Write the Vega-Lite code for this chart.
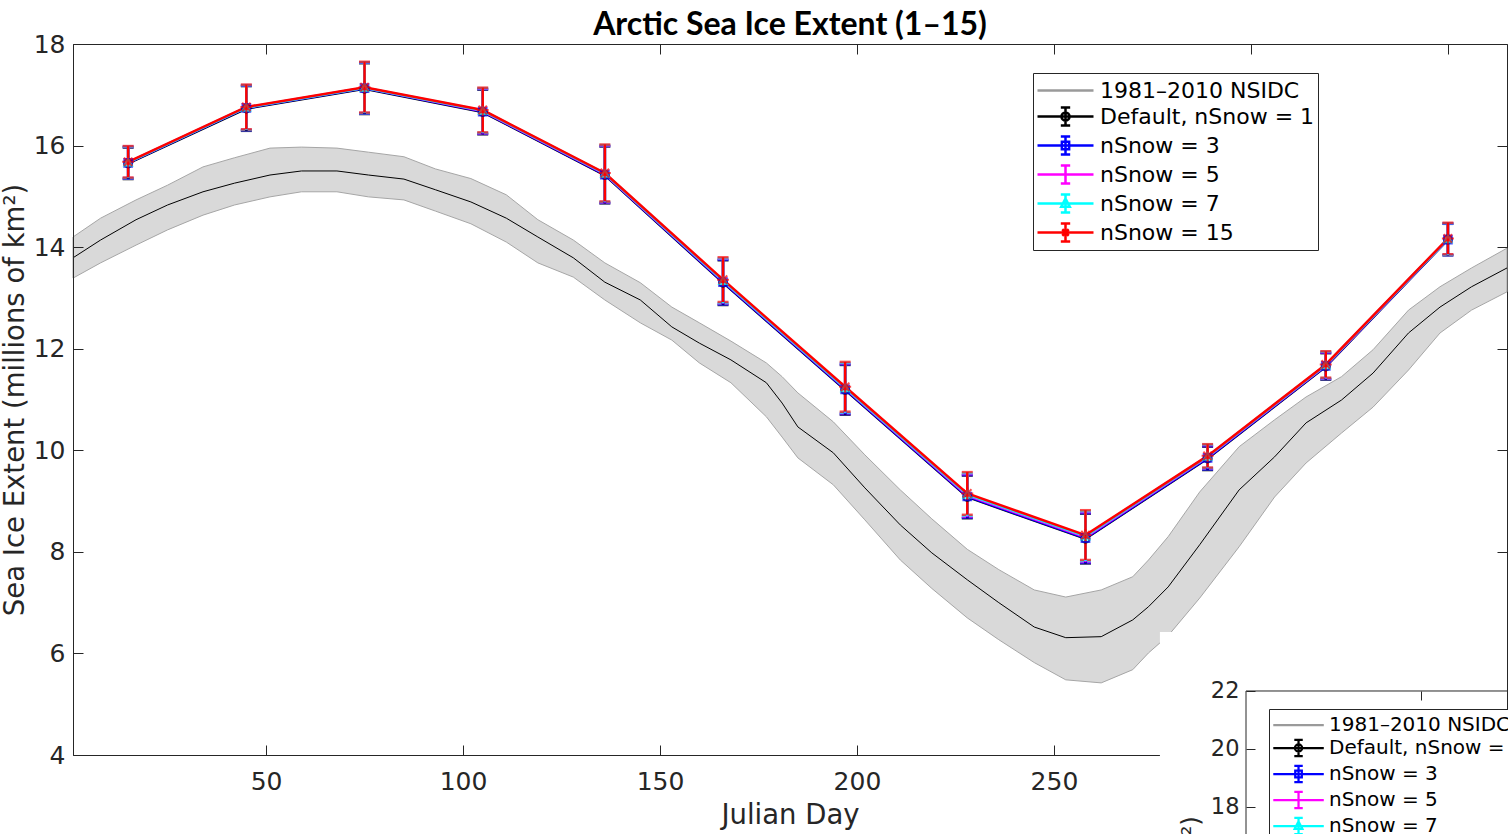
{
  "$schema": "https://vega.github.io/schema/vega-lite/v6.json",
  "background": "white",
  "padding": {"left": 0, "top": 8, "right": 0, "bottom": 0},
  "config": {
    "view": {"stroke": null},
    "axis": {"labelFont": "DejaVu Sans", "labelFontSize": 25, "labelColor": "#262626", "titleFont": "DejaVu Sans", "titleFontSize": 27.5, "titleFontWeight": "normal", "titleColor": "#262626", "tickColor": "#262626", "domainColor": "#262626", "grid": false, "tickSize": -10},
    "legend": {"labelFont": "DejaVu Sans", "labelColor": "black", "disable": true},
    "title": {"font": "Lato", "fontSize": 32, "fontWeight": "bold", "color": "black", "frame": "group"}
  },
  "datasets": {
    "clim": [
      {"day": 1, "mean": 13.79, "hi": 14.20, "lo": 13.39},
      {"day": 8, "mean": 14.14, "hi": 14.57, "lo": 13.69},
      {"day": 17, "mean": 14.54, "hi": 14.93, "lo": 14.04},
      {"day": 25, "mean": 14.83, "hi": 15.22, "lo": 14.34},
      {"day": 34, "mean": 15.09, "hi": 15.58, "lo": 14.63},
      {"day": 42, "mean": 15.26, "hi": 15.76, "lo": 14.83},
      {"day": 51, "mean": 15.42, "hi": 15.95, "lo": 14.99},
      {"day": 59, "mean": 15.50, "hi": 15.97, "lo": 15.09},
      {"day": 68, "mean": 15.50, "hi": 15.95, "lo": 15.09},
      {"day": 76, "mean": 15.42, "hi": 15.87, "lo": 14.99},
      {"day": 85, "mean": 15.34, "hi": 15.78, "lo": 14.93},
      {"day": 93, "mean": 15.13, "hi": 15.54, "lo": 14.71},
      {"day": 102, "mean": 14.89, "hi": 15.35, "lo": 14.46},
      {"day": 111, "mean": 14.57, "hi": 15.03, "lo": 14.10},
      {"day": 119, "mean": 14.20, "hi": 14.54, "lo": 13.69},
      {"day": 128, "mean": 13.79, "hi": 14.14, "lo": 13.41},
      {"day": 136, "mean": 13.31, "hi": 13.69, "lo": 12.96},
      {"day": 145, "mean": 12.96, "hi": 13.30, "lo": 12.51},
      {"day": 153, "mean": 12.43, "hi": 12.82, "lo": 12.17},
      {"day": 160, "mean": 12.11, "hi": 12.51, "lo": 11.72},
      {"day": 168, "mean": 11.78, "hi": 12.15, "lo": 11.33},
      {"day": 177, "mean": 11.33, "hi": 11.72, "lo": 10.66},
      {"day": 181, "mean": 10.93, "hi": 11.45, "lo": 10.26},
      {"day": 185, "mean": 10.46, "hi": 11.13, "lo": 9.85},
      {"day": 194, "mean": 9.95, "hi": 10.56, "lo": 9.32},
      {"day": 202, "mean": 9.26, "hi": 9.91, "lo": 8.63},
      {"day": 211, "mean": 8.53, "hi": 9.22, "lo": 7.84},
      {"day": 219, "mean": 7.98, "hi": 8.65, "lo": 7.28},
      {"day": 228, "mean": 7.45, "hi": 8.05, "lo": 6.70},
      {"day": 236, "mean": 7.00, "hi": 7.65, "lo": 6.27},
      {"day": 245, "mean": 6.52, "hi": 7.25, "lo": 5.82},
      {"day": 253, "mean": 6.31, "hi": 7.11, "lo": 5.48},
      {"day": 262, "mean": 6.33, "hi": 7.25, "lo": 5.42},
      {"day": 270, "mean": 6.66, "hi": 7.51, "lo": 5.68},
      {"day": 274, "mean": 6.92, "hi": 7.84, "lo": 6.01},
      {"day": 279, "mean": 7.31, "hi": 8.30, "lo": 6.35},
      {"day": 287, "mean": 8.14, "hi": 9.18, "lo": 7.09},
      {"day": 297, "mean": 9.22, "hi": 10.07, "lo": 8.10},
      {"day": 306, "mean": 9.87, "hi": 10.60, "lo": 9.08},
      {"day": 314, "mean": 10.54, "hi": 11.05, "lo": 9.75},
      {"day": 323, "mean": 10.99, "hi": 11.45, "lo": 10.34},
      {"day": 331, "mean": 11.52, "hi": 11.98, "lo": 10.85},
      {"day": 340, "mean": 12.31, "hi": 12.76, "lo": 11.58},
      {"day": 348, "mean": 12.82, "hi": 13.22, "lo": 12.31},
      {"day": 356, "mean": 13.22, "hi": 13.59, "lo": 12.76},
      {"day": 365, "mean": 13.59, "hi": 13.98, "lo": 13.12}
    ],
    "runs": [
      {"series": "Default, nSnow = 1", "day": 15, "val": 15.65, "err": 0.31},
      {"series": "Default, nSnow = 1", "day": 45, "val": 16.73, "err": 0.44},
      {"series": "Default, nSnow = 1", "day": 75, "val": 17.12, "err": 0.50},
      {"series": "Default, nSnow = 1", "day": 105, "val": 16.66, "err": 0.44},
      {"series": "Default, nSnow = 1", "day": 136, "val": 15.42, "err": 0.56},
      {"series": "Default, nSnow = 1", "day": 166, "val": 13.30, "err": 0.44},
      {"series": "Default, nSnow = 1", "day": 197, "val": 11.19, "err": 0.49},
      {"series": "Default, nSnow = 1", "day": 228, "val": 9.08, "err": 0.42},
      {"series": "Default, nSnow = 1", "day": 258, "val": 8.26, "err": 0.49},
      {"series": "Default, nSnow = 1", "day": 289, "val": 9.84, "err": 0.23},
      {"series": "Default, nSnow = 1", "day": 319, "val": 11.65, "err": 0.26},
      {"series": "Default, nSnow = 1", "day": 350, "val": 14.15, "err": 0.31},
      {"series": "nSnow = 3", "day": 15, "val": 15.66, "err": 0.31},
      {"series": "nSnow = 3", "day": 45, "val": 16.74, "err": 0.44},
      {"series": "nSnow = 3", "day": 75, "val": 17.13, "err": 0.50},
      {"series": "nSnow = 3", "day": 105, "val": 16.67, "err": 0.44},
      {"series": "nSnow = 3", "day": 136, "val": 15.43, "err": 0.56},
      {"series": "nSnow = 3", "day": 166, "val": 13.31, "err": 0.44},
      {"series": "nSnow = 3", "day": 197, "val": 11.20, "err": 0.49},
      {"series": "nSnow = 3", "day": 228, "val": 9.09, "err": 0.42},
      {"series": "nSnow = 3", "day": 258, "val": 8.27, "err": 0.49},
      {"series": "nSnow = 3", "day": 289, "val": 9.85, "err": 0.23},
      {"series": "nSnow = 3", "day": 319, "val": 11.66, "err": 0.26},
      {"series": "nSnow = 3", "day": 350, "val": 14.15, "err": 0.31},
      {"series": "nSnow = 5", "day": 15, "val": 15.67, "err": 0.31},
      {"series": "nSnow = 5", "day": 45, "val": 16.75, "err": 0.44},
      {"series": "nSnow = 5", "day": 75, "val": 17.14, "err": 0.50},
      {"series": "nSnow = 5", "day": 105, "val": 16.68, "err": 0.44},
      {"series": "nSnow = 5", "day": 136, "val": 15.44, "err": 0.56},
      {"series": "nSnow = 5", "day": 166, "val": 13.33, "err": 0.44},
      {"series": "nSnow = 5", "day": 197, "val": 11.22, "err": 0.49},
      {"series": "nSnow = 5", "day": 228, "val": 9.11, "err": 0.42},
      {"series": "nSnow = 5", "day": 258, "val": 8.29, "err": 0.49},
      {"series": "nSnow = 5", "day": 289, "val": 9.87, "err": 0.23},
      {"series": "nSnow = 5", "day": 319, "val": 11.67, "err": 0.26},
      {"series": "nSnow = 5", "day": 350, "val": 14.16, "err": 0.31},
      {"series": "nSnow = 7", "day": 15, "val": 15.67, "err": 0.31},
      {"series": "nSnow = 7", "day": 45, "val": 16.75, "err": 0.44},
      {"series": "nSnow = 7", "day": 75, "val": 17.14, "err": 0.50},
      {"series": "nSnow = 7", "day": 105, "val": 16.69, "err": 0.44},
      {"series": "nSnow = 7", "day": 136, "val": 15.45, "err": 0.56},
      {"series": "nSnow = 7", "day": 166, "val": 13.34, "err": 0.44},
      {"series": "nSnow = 7", "day": 197, "val": 11.23, "err": 0.49},
      {"series": "nSnow = 7", "day": 228, "val": 9.13, "err": 0.42},
      {"series": "nSnow = 7", "day": 258, "val": 8.31, "err": 0.49},
      {"series": "nSnow = 7", "day": 289, "val": 9.88, "err": 0.23},
      {"series": "nSnow = 7", "day": 319, "val": 11.68, "err": 0.26},
      {"series": "nSnow = 7", "day": 350, "val": 14.16, "err": 0.31},
      {"series": "nSnow = 15", "day": 15, "val": 15.68, "err": 0.31},
      {"series": "nSnow = 15", "day": 45, "val": 16.76, "err": 0.44},
      {"series": "nSnow = 15", "day": 75, "val": 17.15, "err": 0.50},
      {"series": "nSnow = 15", "day": 105, "val": 16.70, "err": 0.44},
      {"series": "nSnow = 15", "day": 136, "val": 15.46, "err": 0.56},
      {"series": "nSnow = 15", "day": 166, "val": 13.36, "err": 0.44},
      {"series": "nSnow = 15", "day": 197, "val": 11.25, "err": 0.49},
      {"series": "nSnow = 15", "day": 228, "val": 9.15, "err": 0.42},
      {"series": "nSnow = 15", "day": 258, "val": 8.33, "err": 0.49},
      {"series": "nSnow = 15", "day": 289, "val": 9.89, "err": 0.23},
      {"series": "nSnow = 15", "day": 319, "val": 11.69, "err": 0.26},
      {"series": "nSnow = 15", "day": 350, "val": 14.17, "err": 0.31}
    ],
    "legendrows": [
      {"series": "1981–2010 NSIDC"},
      {"series": "Default, nSnow = 1"},
      {"series": "nSnow = 3"},
      {"series": "nSnow = 5"},
      {"series": "nSnow = 7"},
      {"series": "nSnow = 15"}
    ]
  },
  "columns": 2,
  "align": "none",
  "spacing": -332,
  "resolve": {"scale": {"color": "independent", "shape": "independent", "x": "independent", "y": "independent"}, "legend": {"color": "independent", "shape": "independent"}},
  "concat": [
    {
      "width": 1434,
      "height": 711,
      "view": {"stroke": "#262626", "strokeWidth": 1, "fill": "white"},
      "title": {"text": "Arctic Sea Ice Extent (1–15)", "offset": -10},
      "resolve": {"axis": {"x": "independent", "y": "independent"}, "scale": {"color": "independent", "shape": "independent"}, "legend": {"color": "independent", "shape": "independent"}},
      "layer": [
        {
          "layer": [
            {
              "data": {"name": "clim"},
              "mark": {"type": "area", "fill": "#d9d9d9", "stroke": "#a6a6a6", "strokeWidth": 1},
              "encoding": {
                "x": {"field": "day", "type": "quantitative", "scale": {"domain": [1, 365], "nice": false, "zero": false},
                      "axis": {"values": [50, 100, 150, 200, 250, 300, 350], "title": "Julian Day", "labelPadding": 24, "titlePadding": 7, "domain": false, "zindex": 0}},
                "y": {"field": "lo", "type": "quantitative", "scale": {"domain": [4, 18], "nice": false, "zero": false}, "title": "Sea Ice Extent (millions of km²)",
                      "axis": {"values": [4, 6, 8, 10, 12, 14, 16, 18], "title": "Sea Ice Extent (millions of km²)", "labelPadding": 18, "titlePadding": 4, "domain": true, "zindex": 1}},
                "y2": {"field": "hi"}
              }
            },
            {
              "data": {"name": "clim"},
              "mark": {"type": "line", "color": "black", "strokeWidth": 1},
              "encoding": {
                "x": {"field": "day", "type": "quantitative", "title": "Julian Day"},
                "y": {"field": "mean", "type": "quantitative", "title": "Sea Ice Extent (millions of km²)"}
              }
            },
            {
              "data": {"name": "runs"},
              "mark": {"type": "line", "strokeWidth": 2.5},
              "encoding": {
                "x": {"field": "day", "type": "quantitative", "title": "Julian Day"},
                "y": {"field": "val", "type": "quantitative", "title": "Sea Ice Extent (millions of km²)"},
                "color": {"field": "series", "type": "nominal", "legend": null,
                  "scale": {"domain": ["Default, nSnow = 1", "nSnow = 3", "nSnow = 5", "nSnow = 7", "nSnow = 15"], "range": ["#000000", "#0000ff", "#ff00ff", "#00ffff", "#ff0000"]}}
              }
            },
            {
              "data": {"name": "runs"},
              "mark": {"type": "errorbar", "ticks": {"size": 11, "thickness": 2.5}, "thickness": 2.5},
              "encoding": {
                "x": {"field": "day", "type": "quantitative", "title": "Julian Day"},
                "y": {"field": "val", "type": "quantitative", "title": "Sea Ice Extent (millions of km²)"},
                "yError": {"field": "err"},
                "color": {"field": "series", "type": "nominal", "legend": null}
              }
            },
            {
              "data": {"name": "runs"},
              "transform": [{"filter": "datum.series === 'Default, nSnow = 1'"}],
              "mark": {"type": "point", "shape": "circle", "filled": false, "color": "#000000", "strokeWidth": 2, "size": 64},
              "encoding": {"x": {"field": "day", "type": "quantitative", "title": "Julian Day"}, "y": {"field": "val", "type": "quantitative", "title": "Sea Ice Extent (millions of km²)"}}
            },
            {
              "data": {"name": "runs"},
              "transform": [{"filter": "datum.series === 'nSnow = 3'"}],
              "mark": {"type": "point", "shape": "square", "filled": false, "color": "#0000ff", "strokeWidth": 2, "size": 60},
              "encoding": {"x": {"field": "day", "type": "quantitative", "title": "Julian Day"}, "y": {"field": "val", "type": "quantitative", "title": "Sea Ice Extent (millions of km²)"}}
            },
            {
              "data": {"name": "runs"},
              "transform": [{"filter": "datum.series === 'nSnow = 7'"}],
              "mark": {"type": "point", "shape": "triangle-up", "filled": false, "color": "#00ffff", "strokeWidth": 2, "size": 60},
              "encoding": {"x": {"field": "day", "type": "quantitative", "title": "Julian Day"}, "y": {"field": "val", "type": "quantitative", "title": "Sea Ice Extent (millions of km²)"}}
            },
            {
              "data": {"name": "runs"},
              "transform": [{"filter": "datum.series === 'nSnow = 15'"}],
              "mark": {"type": "point", "shape": "M-1,0L1,0M0,-1L0,1M-0.7,-0.7L0.7,0.7M-0.7,0.7L0.7,-0.7", "filled": false, "color": "#ff0000", "strokeWidth": 2, "size": 144},
              "encoding": {"x": {"field": "day", "type": "quantitative", "title": "Julian Day"}, "y": {"field": "val", "type": "quantitative", "title": "Sea Ice Extent (millions of km²)"}}
            }
          ]
        },
        {
          "data": {"values": [{}]},
          "mark": {"type": "rect", "color": "white"},
          "encoding": {
            "x": {"datum": 276.9, "type": "quantitative", "axis": {"orient": "top", "labels": false, "title": null, "domain": false, "values": [50, 100, 150, 200, 250, 300, 350], "zindex": 0}},
            "x2": {"datum": 365},
            "y": {"datum": 6.42, "type": "quantitative", "axis": {"orient": "right", "labels": false, "title": null, "domain": false, "values": [4, 6, 8, 10, 12, 14, 16, 18], "zindex": 0}},
            "y2": {"datum": 0}
          }
        },
        {
          "data": {"name": "legendrows"},
          "mark": {"type": "point", "filled": false, "opacity": 0},
          "encoding": {
            "color": {"field": "series", "type": "nominal",
              "scale": {"domain": ["1981–2010 NSIDC", "Default, nSnow = 1", "nSnow = 3", "nSnow = 5", "nSnow = 7", "nSnow = 15"], "range": ["#9a9a9a", "#000000", "#0000ff", "#ff00ff", "#00ffff", "#ff0000"]},
              "legend": {"disable": false, "orient": "none", "legendX": 960, "legendY": 29, "title": null, "labelFontSize": 22, "labelOffset": 35, "labelLimit": 500, "symbolSize": 676, "symbolStrokeWidth": 2.5, "rowPadding": 0, "padding": 3, "strokeColor": "#262626", "fillColor": "white", "symbolOpacity": 1}},
            "shape": {"field": "series", "type": "nominal",
              "scale": {"domain": ["1981–2010 NSIDC", "Default, nSnow = 1", "nSnow = 3", "nSnow = 5", "nSnow = 7", "nSnow = 15"],
                "range": [
                  "M-1,0L3.308,0",
                  "M-1,0L3.308,0M1.154,-0.692L1.154,0.692M0.794,-0.692L1.514,-0.692M0.794,0.692L1.514,0.692M1.464,0A0.31,0.31 0 1,1 0.844,0A0.31,0.31 0 1,1 1.464,0",
                  "M-1,0L3.308,0M1.154,-0.692L1.154,0.692M0.794,-0.692L1.514,-0.692M0.794,0.692L1.514,0.692M0.874,-0.28L1.434,-0.28L1.434,0.28L0.874,0.28Z",
                  "M-1,0L3.308,0M1.154,-0.692L1.154,0.692M0.794,-0.692L1.514,-0.692M0.794,0.692L1.514,0.692",
                  "M-1,0L3.308,0M1.154,-0.692L1.154,0.692M0.794,-0.692L1.514,-0.692M0.794,0.692L1.514,0.692M1.154,-0.38L1.484,0.25L0.824,0.25Z",
                  "M-1,0L3.308,0M1.154,-0.692L1.154,0.692M0.794,-0.692L1.514,-0.692M0.794,0.692L1.514,0.692M0.804,0L1.504,0M1.154,-0.35L1.154,0.35M0.904,-0.25L1.404,0.25M0.904,0.25L1.404,-0.25"
                ]},
              "legend": {"disable": false, "orient": "none", "legendX": 960, "legendY": 29, "title": null, "labelFontSize": 22, "labelOffset": 35, "labelLimit": 500, "symbolSize": 676, "symbolStrokeWidth": 2.5, "rowPadding": 0, "padding": 3, "strokeColor": "#262626", "fillColor": "white", "symbolOpacity": 1}}
          }
        }
      ]
    },
    {
      "width": 1300,
      "height": 1932,
      "layer": [
        {
          "data": {"values": [{}]},
          "mark": {"type": "rule", "color": "#262626", "strokeWidth": 1},
          "encoding": {
            "x": {"datum": 1, "type": "quantitative", "scale": {"domain": [1, 365], "nice": false, "zero": false},
                  "axis": {"orient": "top", "offset": -647, "values": [50, 100, 150, 200, 250, 300, 350], "labels": false, "domain": false, "title": null, "tickSize": -9}},
            "y": {"datum": 22, "type": "quantitative", "scale": {"domain": [-22.31, 44.31], "nice": false, "zero": false},
                  "axis": {"values": [0, 2, 4, 6, 8, 10, 12, 14, 16, 18, 20, 22], "title": "Sea Ice Extent (millions of km²)", "labelFontSize": 22.5, "titleFontSize": 24.75, "tickSize": -9, "labelPadding": 16, "titlePadding": 7, "domain": false}},
            "y2": {"datum": 0}
          }
        },
        {
          "data": {"values": [{}]},
          "mark": {"type": "rule", "color": "#262626", "strokeWidth": 1},
          "encoding": {
            "x": {"datum": 1, "type": "quantitative"},
            "x2": {"datum": 365},
            "y": {"datum": 22, "type": "quantitative"}
          }
        },
        {
          "data": {"name": "legendrows"},
          "mark": {"type": "point", "filled": false, "opacity": 0},
          "encoding": {
            "color": {"field": "series", "type": "nominal",
              "scale": {"domain": ["1981–2010 NSIDC", "Default, nSnow = 1", "nSnow = 3", "nSnow = 5", "nSnow = 7", "nSnow = 15"], "range": ["#9a9a9a", "#000000", "#0000ff", "#ff00ff", "#00ffff", "#ff0000"]},
              "legend": {"disable": false, "orient": "none", "legendX": 23, "legendY": 665, "title": null, "labelFontSize": 20, "labelOffset": 31, "labelLimit": 500, "symbolSize": 550, "symbolStrokeWidth": 2.25, "rowPadding": 0, "padding": 3, "strokeColor": "#262626", "fillColor": "white", "symbolOpacity": 1}},
            "shape": {"field": "series", "type": "nominal",
              "scale": {"domain": ["1981–2010 NSIDC", "Default, nSnow = 1", "nSnow = 3", "nSnow = 5", "nSnow = 7", "nSnow = 15"],
                "range": [
                  "M-1,0L3.308,0",
                  "M-1,0L3.308,0M1.154,-0.692L1.154,0.692M0.794,-0.692L1.514,-0.692M0.794,0.692L1.514,0.692M1.464,0A0.31,0.31 0 1,1 0.844,0A0.31,0.31 0 1,1 1.464,0",
                  "M-1,0L3.308,0M1.154,-0.692L1.154,0.692M0.794,-0.692L1.514,-0.692M0.794,0.692L1.514,0.692M0.874,-0.28L1.434,-0.28L1.434,0.28L0.874,0.28Z",
                  "M-1,0L3.308,0M1.154,-0.692L1.154,0.692M0.794,-0.692L1.514,-0.692M0.794,0.692L1.514,0.692",
                  "M-1,0L3.308,0M1.154,-0.692L1.154,0.692M0.794,-0.692L1.514,-0.692M0.794,0.692L1.514,0.692M1.154,-0.38L1.484,0.25L0.824,0.25Z",
                  "M-1,0L3.308,0M1.154,-0.692L1.154,0.692M0.794,-0.692L1.514,-0.692M0.794,0.692L1.514,0.692M0.804,0L1.504,0M1.154,-0.35L1.154,0.35M0.904,-0.25L1.404,0.25M0.904,0.25L1.404,-0.25"
                ]},
              "legend": {"disable": false, "orient": "none", "legendX": 23, "legendY": 665, "title": null, "labelFontSize": 20, "labelOffset": 31, "labelLimit": 500, "symbolSize": 550, "symbolStrokeWidth": 2.25, "rowPadding": 0, "padding": 3, "strokeColor": "#262626", "fillColor": "white", "symbolOpacity": 1}}
          }
        }
      ]
    }
  ]
}
